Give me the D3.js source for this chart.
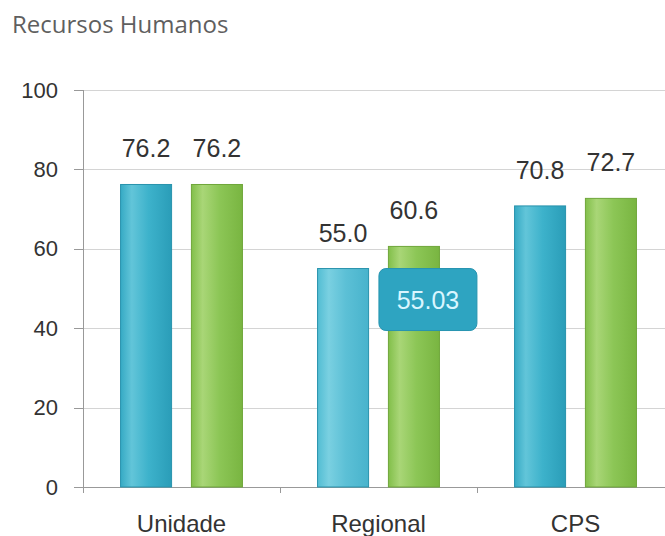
<!DOCTYPE html>
<meta charset="utf-8">
<head>
	<title>Recursos Humanos</title>
	<style>
	body { margin: 0; background: #fff; }
	.axis text { font-family: "Liberation Sans", Arial, sans-serif; fill: #333; }
	.axis path, .axis line { fill: none; stroke: #999; shape-rendering: crispEdges; }
	.grid line { stroke: #d4d4d4; shape-rendering: crispEdges; }
	.grid path { display: none; }
	</style>
</head>
<body>
	<script src="https://cdn.jsdelivr.net/npm/d3@7"></script>
	<script>

		var categories = ["Unidade", "Regional", "CPS"];
		var series = ["blue", "green"];
		var blueValues = [76.2, 55.03, 70.8];
		var greenValues = [76.2, 60.6, 72.7];
		var yTicks = [0, 20, 40, 60, 80, 100];
		var tooltipText = "55.03";

		var width = 665, height = 536;
		var plotLeft = 83, plotTop = 90, plotBottom = 487;

		var svg = d3.select("body").append("svg")
			.attr("width", width)
			.attr("height", height);

		// gradients for the bars
		var defs = svg.append("defs");
		function grad(id, stops) {
			var g = defs.append("linearGradient").attr("id", id)
				.attr("x1", "0%").attr("x2", "100%").attr("y1", "0%").attr("y2", "0%");
			stops.forEach(function(s) {
				g.append("stop").attr("offset", s[0]).attr("stop-color", s[1]);
			});
		}
		grad("gBlue", [["0%", "#36aac4"], ["22%", "#62c5d9"], ["55%", "#3db2cb"], ["100%", "#2a9db8"]]);
		grad("gBlueHi", [["0%", "#52bdd3"], ["22%", "#7ad0e1"], ["55%", "#5cc0d6"], ["100%", "#48b3cc"]]);
		grad("gGreen", [["0%", "#82bf4a"], ["22%", "#a9d677"], ["55%", "#8cc656"], ["100%", "#79b541"]]);

		var x0 = d3.scaleBand()
			.domain(categories)
			.range([plotLeft, plotLeft + 3 * 197]);

		var x1 = d3.scaleBand()
			.domain(series)
			.range([0, x0.bandwidth()])
			.paddingInner(0.28)
			.paddingOuter(0.53);

		var y = d3.scaleLinear()
			.domain([0, 100])
			.range([plotBottom, plotTop]);

		// title
		svg.append("text")
			.attr("x", 12)
			.attr("y", 33)
			.style("font-family", "'Open Sans', sans-serif")
			.style("font-size", "24px")
			.style("fill", "#5f5f5f")
			.text("Recursos Humanos");

		// gridlines
		svg.append("g")
			.attr("class", "grid")
			.attr("transform", "translate(" + plotLeft + ",0)")
			.call(d3.axisRight(y).tickValues(yTicks).tickSize(width - plotLeft).tickFormat(""))
			.selectAll(".tick").filter(function(d) { return d === 0; }).remove();

		// y axis
		var yAxis = svg.append("g")
			.attr("class", "axis")
			.attr("transform", "translate(" + plotLeft + ",0)")
			.call(d3.axisLeft(y).tickValues(yTicks).tickSize(9).tickSizeOuter(0).tickPadding(16));
		yAxis.select(".domain").attr("d", "M0," + plotTop + "V" + (plotBottom + 6));
		yAxis.selectAll("text").style("font-size", "22px");

		// x axis
		var xAxis = svg.append("g")
			.attr("class", "axis")
			.attr("transform", "translate(0," + plotBottom + ")")
			.call(d3.axisBottom(x0).tickSize(0).tickPadding(28));
		xAxis.select(".domain").attr("d", "M" + (plotLeft - 7) + ",0H" + width);
		xAxis.selectAll("text").style("font-size", "24px");
		// category separators
		xAxis.selectAll("line.sep")
			.data(categories.slice(1))
			.enter().append("line")
			.attr("class", "sep")
			.attr("x1", function(d) { return x0(d); })
			.attr("x2", function(d) { return x0(d); })
			.attr("y1", 0).attr("y2", 6);

		// bars
		var rows = categories.map(function(c, i) {
			return [
				{cat: c, key: "blue", value: blueValues[i]},
				{cat: c, key: "green", value: greenValues[i]}
			];
		});

		var groups = svg.selectAll("g.cat")
			.data(rows)
			.enter().append("g")
			.attr("class", "cat")
			.attr("transform", function(d) { return "translate(" + x0(d[0].cat) + ",0)"; });

		groups.selectAll("rect")
			.data(function(d) { return d; })
			.enter().append("rect")
			.attr("x", function(d) { return x1(d.key); })
			.attr("width", x1.bandwidth())
			.attr("y", function(d) { return y(d.value); })
			.attr("height", function(d) { return plotBottom - y(d.value); })
			.style("fill", function(d) {
				if (d.key === "green") return "url(#gGreen)";
				return d.cat === "Regional" ? "url(#gBlueHi)" : "url(#gBlue)";
			})
			.style("stroke", function(d) { return d.key === "green" ? "#6fa63a" : "#2993ad"; })
			.style("stroke-width", 1);

		groups.selectAll("text")
			.data(function(d) { return d; })
			.enter().append("text")
			.attr("x", function(d) { return x1(d.key) + x1.bandwidth() / 2; })
			.attr("y", function(d) { return y(d.value) - 27; })
			.attr("text-anchor", "middle")
			.style("font-family", "'Liberation Sans', Arial, sans-serif")
			.style("font-size", "25px")
			.style("fill", "#333")
			.text(function(d) { return d.value.toFixed(1); });

		// tooltip next to the Regional blue bar, over the green one
		var tipX = x0("Regional") + x1("green") + x1.bandwidth() / 2 + 14;
		var tipY = y(blueValues[1]) + 31;
		var tip = svg.append("g").attr("transform", "translate(" + tipX + "," + tipY + ")");
		tip.append("rect")
			.attr("x", -49).attr("y", -31)
			.attr("width", 98).attr("height", 62)
			.attr("rx", 7)
			.style("fill", "#2ea4c1")
			.style("stroke", "#2794b0");
		tip.append("text")
			.attr("y", 9)
			.attr("text-anchor", "middle")
			.style("font-family", "'Liberation Sans', Arial, sans-serif")
			.style("font-size", "25px")
			.style("fill", "#d9f6ff")
			.text(tooltipText);

	</script>
</body>
